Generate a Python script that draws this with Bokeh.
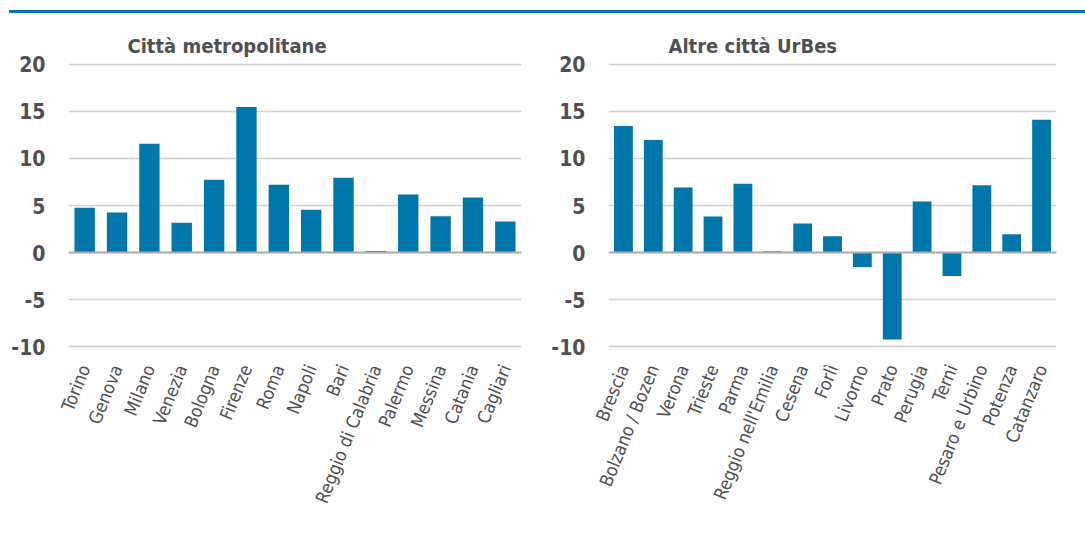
from bokeh.plotting import figure
from bokeh.layouts import column, row
from bokeh.models import FixedTicker, Span, ColumnDataSource, Div, CustomJSTickFormatter
from bokeh.embed import file_html
from bokeh.resources import INLINE
import math

metro_cities = ["Torino", "Genova", "Milano", "Venezia", "Bologna", "Firenze", "Roma",
                "Napoli", "Bari", "Reggio di Calabria", "Palermo", "Messina", "Catania", "Cagliari"]
metro_values = [4.75, 4.26, 11.56, 3.16, 7.73, 15.46, 7.2, 4.54, 7.94, 0.18, 6.17, 3.87, 5.85, 3.3]

other_cities = ["Brescia", "Bolzano / Bozen", "Verona", "Trieste", "Parma", "Reggio nell'Emilia",
                "Cesena", "Forlì", "Livorno", "Prato", "Perugia", "Terni", "Pesaro e Urbino",
                "Potenza", "Catanzaro"]
other_values = [13.44, 11.95, 6.91, 3.83, 7.3, 0.14, 3.08, 1.73, -1.53, -9.22, 5.42, -2.48, 7.16, 1.95, 14.1]

y_ticks = [-10, -5, 0, 5, 10, 15, 20]
titles = ["Città metropolitane", "Altre città UrBes"]

BLUE = "#0076AB"
GREY_TXT = "#4f5052"
FONT = "'Liberation Sans Narrow', 'DejaVu Sans Condensed', 'Roboto', sans-serif"


def make_panel(cats, vals, title, frame_w, left, right, title_offset):
    src = ColumnDataSource(dict(x=cats, top=vals))
    p = figure(x_range=cats, y_range=(-10.5, 20.5), frame_width=frame_w, frame_height=292,
               output_backend="svg", toolbar_location=None,
               min_border_left=left, min_border_right=right,
               min_border_top=46, min_border_bottom=180)
    p.x_range.range_padding = 0
    p.vbar(x="x", top="top", bottom=0, width=0.63, source=src,
           fill_color=BLUE, line_color=None)
    p.outline_line_color = None
    p.xgrid.grid_line_color = None
    p.ygrid.ticker = FixedTicker(ticks=y_ticks)
    p.ygrid.grid_line_color = "#d0d0d0"
    p.ygrid.grid_line_width = 1.5
    p.yaxis.ticker = FixedTicker(ticks=y_ticks)
    p.yaxis.formatter = CustomJSTickFormatter(code="return String(tick);")
    p.yaxis.axis_line_color = None
    p.yaxis.major_tick_line_color = None
    p.yaxis.major_tick_out = 0
    p.yaxis.major_tick_in = 0
    p.yaxis.minor_tick_line_color = None
    p.yaxis.major_label_standoff = 23
    p.yaxis.major_label_text_font = FONT
    p.yaxis.major_label_text_font_size = "21px"
    p.yaxis.major_label_text_font_style = "bold"
    p.yaxis.major_label_text_color = GREY_TXT
    p.xaxis.axis_line_color = None
    p.xaxis.major_tick_line_color = None
    p.xaxis.major_tick_out = 0
    p.xaxis.major_tick_in = 0
    p.xaxis.major_label_orientation = math.radians(68)
    p.xaxis.major_label_standoff = 14
    p.xaxis.major_label_text_font = FONT
    p.xaxis.major_label_text_font_size = "18px"
    p.xaxis.major_label_text_color = GREY_TXT
    p.add_layout(Span(location=0, dimension="width", line_color="#aeaeae", line_width=2))
    p.title.text = title
    p.title.align = "left"
    p.title.offset = title_offset
    p.title.standoff = 4
    p.title.text_font = FONT
    p.title.text_font_size = "20px"
    p.title.text_font_style = "bold"
    p.title.text_color = GREY_TXT
    return p


left_p = make_panel(metro_cities, metro_values, titles[0], 453, 68, 19, 59)
right_p = make_panel(other_cities, other_values, titles[1], 448, 68, 20, 60)

top = Div(text="", width=1076, height=3, margin=(10, 0, 0, 9),
          styles={"background-color": BLUE})

layout = column(top, row(left_p, right_p))
open("out.html", "w").write(file_html(layout, INLINE))
